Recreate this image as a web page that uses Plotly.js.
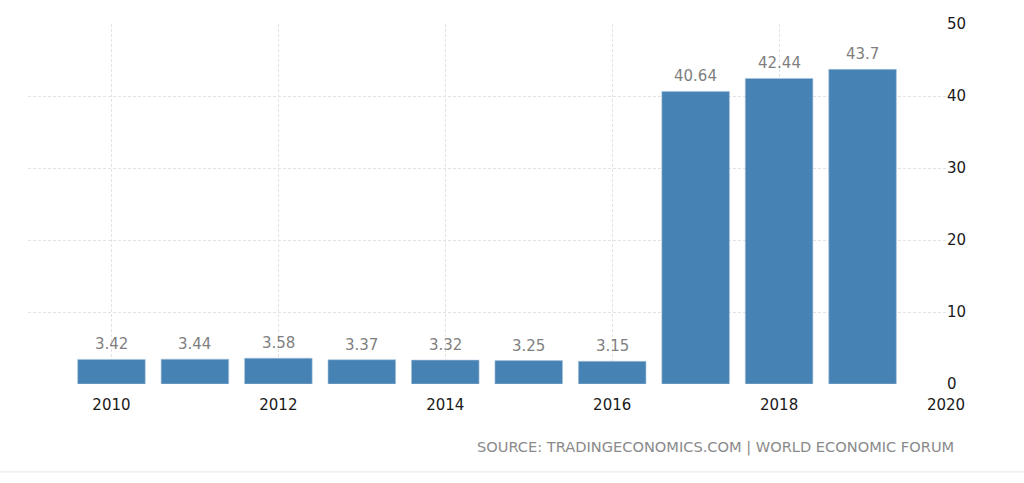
<!DOCTYPE html>
<html>
<head>
<meta charset="utf-8">
<script src="https://cdn.plot.ly/plotly-3.0.1.min.js"></script>
<style>html,body{margin:0;padding:0;background:#fff;}#chart{width:1024px;height:483px;}</style>
</head>
<body>
<div id="chart"></div>
<script>
const years = [2010, 2011, 2012, 2013, 2014, 2015, 2016, 2017, 2018, 2019];
const values = [3.42, 3.44, 3.58, 3.37, 3.32, 3.25, 3.15, 40.64, 42.44, 43.7];
const xTicks = [2010, 2012, 2014, 2016, 2018, 2020];
const yTicks = [0, 10, 20, 30, 40, 50];
const sourceText = 'SOURCE: TRADINGECONOMICS.COM | WORLD ECONOMIC FORUM';

const font = 'DejaVu Sans, Verdana, sans-serif';

const trace = {
  type: 'bar',
  x: years,
  y: values,
  width: 0.81,
  marker: {color: '#4682b4', line: {color: '#a9c4dc', width: 0.6}},
  hoverinfo: 'skip'
};

const annotations = years.map((yr, i) => ({
  x: yr, y: values[i], xref: 'x', yref: 'y',
  text: String(values[i]),
  showarrow: false,
  yanchor: 'bottom',
  yshift: 4,
  font: {family: font, size: 15, color: '#7f7f7f'}
}));
annotations.push({
  xref: 'paper', yref: 'paper', x: 1.011, y: -0.175,
  xanchor: 'right', yanchor: 'middle',
  text: sourceText, showarrow: false,
  font: {family: font, size: 14.6, color: '#8a8a8a'}
});

const layout = {
  width: 1024, height: 483,
  margin: {l: 28, r: 78, t: 24, b: 99, pad: 0},
  paper_bgcolor: '#ffffff',
  plot_bgcolor: '#ffffff',
  showlegend: false,
  xaxis: {
    range: [2009, 2020],
    tickvals: xTicks,
    ticktext: xTicks.map(String),
    showgrid: true, gridcolor: '#e3e3e3', griddash: '3px,2px', gridwidth: 1,
    zeroline: false, showline: false, ticks: '',
    ticklabelstandoff: 10,
    tickfont: {family: font, size: 15, color: '#1a1a1a'},
    fixedrange: true
  },
  yaxis: {
    side: 'right',
    range: [0, 50],
    tickvals: yTicks,
    ticktext: yTicks.map(String),
    showgrid: true, gridcolor: '#e3e3e3', griddash: '3px,2px', gridwidth: 1,
    zeroline: false, showline: false, ticks: '',
    tickfont: {family: font, size: 15, color: '#1a1a1a'},
    fixedrange: true
  },
  annotations: annotations,
  shapes: [{
    type: 'line', xref: 'paper', yref: 'paper',
    x0: -28/918, x1: 996/918, y0: -0.244, y1: -0.244,
    line: {color: '#f2f2f2', width: 2}
  }]
};

Plotly.newPlot('chart', [trace], layout, {displayModeBar: false, staticPlot: true});
</script>
</body>
</html>
